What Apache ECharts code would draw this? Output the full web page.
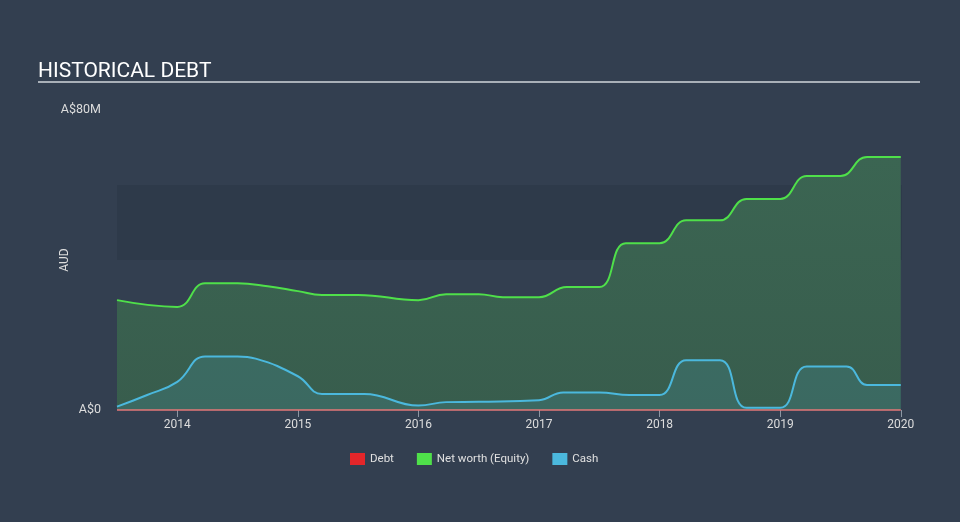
<!DOCTYPE html>
<html>
<head>
<meta charset="utf-8">
<script src="https://cdn.jsdelivr.net/npm/echarts@6/dist/echarts.min.js"></script>
<style>
html,body{margin:0;padding:0;background:#333f50;}
#c{width:960px;height:522px;}
</style>
</head>
<body>
<div id="c"></div>
<script>
// Data (values in A$ millions, x in decimal years)
const equityYears = [2013.5, 2014.0, 2014.23, 2014.5, 2014.75, 2015.0, 2015.2, 2015.5, 2016.0, 2016.23, 2016.5, 2016.7, 2017.0, 2017.23, 2017.5, 2017.72, 2018.0, 2018.22, 2018.5, 2018.72, 2019.0, 2019.22, 2019.5, 2019.72, 2020.0];
const equityValues = [29.3, 27.5, 33.8, 33.8, 33.0, 31.7, 30.7, 30.7, 29.3, 30.9, 30.9, 30.1, 30.1, 32.8, 32.8, 44.5, 44.5, 50.6, 50.6, 56.3, 56.3, 62.4, 62.4, 67.5, 67.5];
const cashYears = [2013.5, 2013.75, 2014.0, 2014.23, 2014.5, 2014.65, 2015.0, 2015.2, 2015.55, 2016.0, 2016.23, 2016.5, 2017.0, 2017.2, 2017.5, 2017.75, 2018.0, 2018.22, 2018.5, 2018.72, 2019.0, 2019.22, 2019.55, 2019.72, 2020.0];
const cashValues = [0.9, 4.0, 7.5, 14.3, 14.3, 13.7, 9.0, 4.3, 4.3, 1.2, 2.1, 2.2, 2.6, 4.7, 4.7, 4.0, 4.0, 13.3, 13.3, 0.6, 0.6, 11.6, 11.6, 6.7, 6.7];
const debtYears = [2013.5, 2020.0];
const debtValues = [0, 0];
const yearTicks = [2014, 2015, 2016, 2017, 2018, 2019, 2020];
const seriesNames = ['Debt', 'Net worth (Equity)', 'Cash'];

const zip = (xs, ys) => xs.map((x, i) => [x, ys[i]]);

const chart = echarts.init(document.getElementById('c'), null, {renderer: 'canvas'});
const font = 'Roboto, "Noto Sans", sans-serif';
chart.setOption({
  backgroundColor: '#333f50',
  animation: false,
  textStyle: {fontFamily: font},
  title: {
    text: 'HISTORICAL DEBT',
    left: 33, top: 56,
    textStyle: {color: '#ffffff', fontSize: 21, fontWeight: 'normal', fontFamily: font}
  },
  graphic: [{
    type: 'rect', left: 38, top: 81,
    shape: {width: 882, height: 2},
    style: {fill: '#a9b0b8'}
  }],
  legend: {
    bottom: 52, left: 345,
    itemWidth: 15, itemHeight: 12, itemGap: 23,
    icon: 'rect',
    textStyle: {color: '#e0e0e0', fontSize: 11.5, fontFamily: font},
    data: seriesNames
  },
  grid: {left: 117, right: 58, top: 110, bottom: 112},
  xAxis: {
    type: 'value', min: 2013.5, max: 2020.01,
    axisLine: {show: false},
    splitLine: {show: false},
    axisTick: {show: true, length: 7, lineStyle: {color: '#8d96a3', width: 1}, customValues: yearTicks},
    axisLabel: {color: '#dddddd', fontSize: 12, margin: 9, customValues: yearTicks, formatter: v => String(Math.round(v))}
  },
  yAxis: {
    type: 'value', min: 0, max: 80, interval: 80,
    name: 'AUD', nameLocation: 'middle', nameGap: 46, nameRotate: 90,
    nameMoveOverlap: false,
    nameTextStyle: {color: '#dddddd', fontSize: 12},
    axisLine: {show: false}, axisTick: {show: false},
    splitLine: {show: false},
    axisLabel: {color: '#dddddd', fontSize: 12.5, margin: 16, formatter: v => v === 0 ? 'A$0' : 'A$' + v + 'M'}
  },
  series: [
    {
      name: 'band', type: 'line', data: [], z: 0, silent: true,
      markArea: {
        silent: true, z: 0,
        itemStyle: {color: '#2e3a4a'},
        data: [[{yAxis: 40}, {yAxis: 60}]]
      }
    },
    {
      name: 'Net worth (Equity)', type: 'line', smooth: 0.45,
      showSymbol: false, symbol: 'none', z: 2,
      data: zip(equityYears, equityValues),
      itemStyle: {color: '#4fe04a'},
      lineStyle: {color: '#4fe04a', width: 2},
      areaStyle: {
        opacity: 1,
        color: new echarts.graphic.LinearGradient(0, 0, 0, 1, [
          {offset: 0, color: '#3b6552'},
          {offset: 1, color: '#385d4d'}
        ])
      }
    },
    {
      name: 'Cash', type: 'line', smooth: 0.45,
      showSymbol: false, symbol: 'none', z: 3,
      data: zip(cashYears, cashValues),
      itemStyle: {color: '#4bb8dd'},
      lineStyle: {color: '#4bb8dd', width: 2},
      areaStyle: {color: 'rgba(75,184,221,0.2)'}
    },
    {
      name: 'Debt', type: 'line', showSymbol: false, symbol: 'none', z: 4,
      data: zip(debtYears, debtValues),
      itemStyle: {color: '#e4262a'},
      lineStyle: {color: 'rgba(228,120,120,0.75)', width: 2}
    }
  ]
});
</script>
</body>
</html>
